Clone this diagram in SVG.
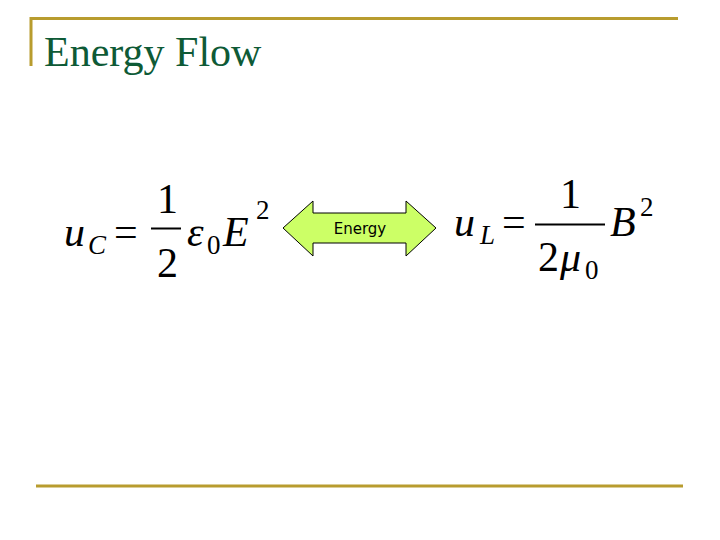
<svg xmlns="http://www.w3.org/2000/svg" width="720" height="540" viewBox="0 0 720 540">
<style>
.rule{stroke:#B89C2E;stroke-width:3;fill:none}
.m{font-family:"Liberation Serif",serif;fill:#000}
.i{font-style:italic}
</style>
<rect width="720" height="540" fill="#fff"/>
<g id="frame">
<path class="rule" d="M31 66 V18.5 H678"/>
<path class="rule" d="M36 486 H683"/>
</g>
<text x="44" y="66" font-family="Liberation Serif,serif" font-size="42" fill="#0E5A36">Energy Flow</text>
<g id="eqC">
<text class="m i" x="64" y="246" font-size="42">u</text>
<text class="m i" x="88" y="254" font-size="27">C</text>
<text class="m" x="114" y="246" font-size="42">=</text>
<text class="m" x="157" y="213" font-size="42">1</text>
<line x1="151" y1="228.5" x2="181" y2="228.5" stroke="#000" stroke-width="2"/>
<text class="m" x="157" y="277" font-size="42">2</text>
<text class="m i" x="187" y="246" font-size="42">ε</text>
<text class="m" x="207" y="254" font-size="27">0</text>
<text class="m i" x="223" y="246" font-size="42">E</text>
<text class="m" x="256" y="219" font-size="27">2</text>
</g>
<g id="arrow">
<polygon points="283,228 313,201 313,213 406,213 406,201 436,228 406,256 406,243 313,243 313,256" fill="#CCFF66" stroke="#000" stroke-width="1"/>
<text x="360" y="234" text-anchor="middle" font-family="DejaVu Sans,sans-serif" font-size="15" fill="#000">Energy</text>
</g>
<g id="eqL">
<text class="m i" x="454" y="236" font-size="42">u</text>
<text class="m i" x="480" y="244" font-size="27">L</text>
<text class="m" x="502" y="236" font-size="42">=</text>
<text class="m" x="560" y="208" font-size="42">1</text>
<line x1="535" y1="224.5" x2="605" y2="224.5" stroke="#000" stroke-width="2"/>
<text class="m" x="538" y="271" font-size="42">2</text>
<text class="m i" x="560" y="271" font-size="42">μ</text>
<text class="m" x="585" y="279" font-size="27">0</text>
<text class="m i" x="610" y="236" font-size="42">B</text>
<text class="m" x="640" y="216" font-size="27">2</text>
</g>
</svg>
